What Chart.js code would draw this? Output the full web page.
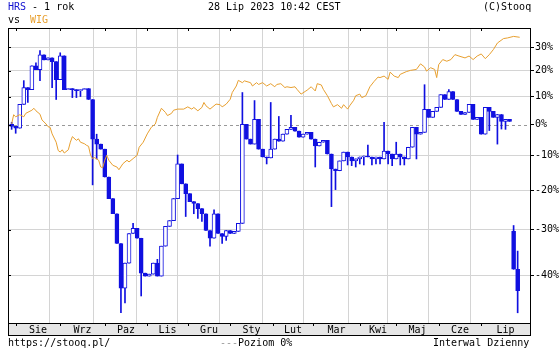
<!DOCTYPE html>
<html>
<head>
<meta charset="utf-8">
<script src="https://cdn.jsdelivr.net/npm/chart.js@4.4.0/dist/chart.umd.min.js"></script>
<style>
body { margin: 0; background: #fff; }
#wrap { position: relative; width: 560px; height: 350px; font: 10px "DejaVu Sans Mono", monospace; color: #000; }
#wrap canvas { position: absolute; left: 0; top: 0; }
.t { position: absolute; white-space: pre; line-height: 12px; }
</style>
</head>
<body>
<div id="wrap">
  <canvas id="chart" width="560" height="350"></canvas>
  <div class="t" style="left:8px;top:1px"><span style="color:#1010d0">HRS</span> - 1 rok</div>
  <div class="t" style="left:208px;top:1px">28 Lip 2023 10:42 CEST</div>
  <div class="t" style="left:483px;top:1px">(C)Stooq</div>
  <div class="t" style="left:8px;top:14px">vs <span style="color:#e8a030;margin-left:4px">WIG</span></div>
  <div class="t" style="left:8px;top:337px">https://stooq.pl/</div>
  <div class="t" style="left:220px;top:337px"><span style="color:#999">---</span>Poziom 0%</div>
  <div class="t" style="left:433px;top:337px">Interwal Dzienny</div>
</div>
<script>
// month axis: first session of each month (session index from 28 Jul 2022)
const monthLabels = ['Sie', 'Wrz', 'Paz', 'Lis', 'Gru', 'Sty', 'Lut', 'Mar', 'Kwi', 'Maj', 'Cze', 'Lip'];
const monthStarts = [2, 24, 46, 67, 87, 108, 129, 149, 172, 190, 211, 232];
const yTicks = [30, 20, 10, 0, -10, -20, -30, -40];

// WIG, % change vs start
const wigDay = [0, 1, 2, 4, 6, 7, 10, 11, 12, 14, 15, 17, 18, 19, 20, 22, 23, 24, 25, 26, 28, 29, 30, 32, 33, 34, 36, 37, 38, 39,
  40, 41, 43, 44, 45, 46, 47, 48, 50, 52, 53, 55, 57, 58, 60, 62, 63, 65, 67, 69, 71, 72, 74, 76, 77, 79, 80, 82, 85, 87,
  89, 90, 92, 94, 95, 96, 98, 99, 101, 103, 104, 106, 108, 109, 111, 112, 114, 115, 118, 119, 121, 122, 124, 126, 128, 130, 131, 133, 135, 136,
  138, 140, 141, 143, 145, 146, 148, 150, 151, 153, 154, 156, 158, 159, 161, 163, 164, 166, 167, 169, 170, 172, 173, 175, 177, 179, 181, 182, 184, 186,
  187, 189, 191, 192, 195, 197, 200, 202, 204, 205, 207, 209, 210, 211, 213, 215, 217, 219, 221, 224, 226, 228, 230, 232, 234, 236, 238, 240, 243, 245,
  248, 251];
const wigPct = [0.2, 3.4, 2.7, 3.4, 2.7, 3.9, 5.0, 5.7, 4.8, 3.6, 1.6, 0.2, -0.7, -0.9, -3.1, -5.8, -8.4, -8.9, -8.2, -9.2, -8.2, -5.8, -4.0, -5.2, -4.7, -5.8, -6.3, -6.8, -7.1, -9.9,
  -10.9, -10.6, -11.4, -13.4, -13.6, -11.4, -9.9, -11.4, -12.9, -13.4, -14.2, -12.4, -11.4, -11.9, -10.9, -9.9, -7.4, -5.8, -3.1, -0.9, 0.2, 2.5, 5.7, 4.2, 3.1, 3.9, 5.0, 5.4, 5.4, 6.2,
  5.4, 6.0, 4.8, 6.0, 7.8, 6.6, 5.4, 6.0, 7.2, 7.0, 6.2, 7.2, 9.0, 11.5, 14.0, 16.2, 15.3, 16.0, 15.3, 14.0, 15.3, 14.6, 15.3, 14.0, 14.9, 13.7, 14.6, 14.9, 13.4, 13.7,
  13.4, 13.7, 12.7, 10.9, 11.9, 12.4, 13.7, 12.1, 14.9, 14.4, 12.7, 10.3, 7.4, 6.2, 7.0, 5.7, 7.0, 5.4, 6.6, 8.6, 10.3, 10.9, 9.6, 10.3, 13.7, 15.7, 17.5, 17.3, 17.9, 16.6,
  19.5, 17.9, 17.3, 18.6, 19.7, 20.2, 20.6, 22.9, 21.6, 19.9, 21.3, 20.6, 17.3, 22.6, 24.7, 24.0, 24.7, 26.8, 26.2, 25.4, 26.2, 24.7, 26.2, 27.1, 25.1, 26.8, 29.0, 31.9, 33.9, 34.2,
  34.9, 34.5];

// HRS candles, one per two sessions, % change vs start
const hrsOpen = [0.1, -0.6, -1.2, 7.1, 13.4, 12.6, 22.1, 20.5, 26.7, 24.6,
  25.4, 23.8, 16.5, 26.3, 12.6, 13.0, 12.6, 12.2, 12.6, 13.0,
  8.9, -4.8, -6.4, -8.0, -16.3, -22.2, -26.1, -33.2, -42.6, -37.5,
  -30.9, -29.7, -32.0, -39.6, -40.2, -39.8, -37.5, -40.2, -33.8, -29.2,
  -27.8, -22.2, -12.5, -18.2, -20.9, -23.0, -23.5, -24.8, -26.1, -30.2,
  -32.0, -26.1, -30.9, -31.6, -30.2, -30.9, -30.4, -28.5, 0.1, -4.8,
  -6.4, 1.8, -8.0, -10.4, -10.7, -8.0, -4.8, -5.5, -3.2, -1.6,
  -0.9, -2.2, -4.2, -3.2, -2.6, -4.8, -7.0, -5.8, -5.2, -9.5,
  -14.0, -14.5, -11.6, -8.9, -10.4, -11.6, -11.0, -10.4, -10.1, -10.4,
  -11.0, -10.4, -11.0, -8.6, -9.5, -11.0, -9.5, -10.4, -11.0, -7.4,
  -0.9, -3.2, -2.6, 5.3, 2.5, 4.6, 6.0, 10.7, 8.9, 11.9,
  8.9, 4.6, 3.5, 4.2, 7.1, 1.8, 2.5, -3.2, 6.0, 4.6,
  2.5, 3.5, 1.1, 1.8, -30.4, -38.8];
const hrsClose = [-0.6, -1.2, 7.1, 13.4, 12.6, 22.1, 20.5, 26.7, 24.6, 25.4,
  23.8, 16.5, 26.3, 12.6, 13.0, 12.6, 12.2, 12.6, 13.0, 8.9,
  -4.8, -6.4, -8.0, -16.3, -22.2, -26.1, -33.2, -42.6, -37.5, -30.9,
  -29.7, -32.0, -39.6, -40.2, -39.8, -37.5, -40.2, -33.8, -29.2, -27.8,
  -22.2, -12.5, -18.2, -20.9, -23.0, -23.5, -24.8, -26.1, -30.2, -32.0,
  -26.1, -30.9, -31.6, -30.2, -30.9, -30.4, -28.5, 0.1, -4.8, -6.4,
  1.8, -8.0, -10.4, -10.7, -8.0, -4.8, -5.5, -3.2, -1.6, -0.9,
  -2.2, -4.2, -3.2, -2.6, -4.8, -7.0, -5.8, -5.2, -9.5, -14.0,
  -14.5, -11.6, -8.9, -10.4, -11.6, -11.0, -10.4, -10.1, -10.4, -11.0,
  -10.4, -11.0, -8.6, -9.5, -11.0, -9.5, -10.4, -11.0, -7.4, -0.9,
  -3.2, -2.6, 5.3, 2.5, 4.6, 6.0, 10.7, 8.9, 11.9, 8.9,
  4.6, 3.5, 4.2, 7.1, 1.8, 2.5, -3.2, 6.0, 4.6, 2.5,
  3.5, 1.1, 1.8, 1.1, -38.8, -43.1];
const hrsHigh = [0.8, null, null, 16.1, null, null, 23.3, 28.6, null, null,
  null, null, 27.6, null, null, null, null, null, null, null,
  null, -3.2, null, null, null, null, null, null, null, null,
  -28.5, null, null, null, null, null, -36.7, null, null, null,
  null, -9.8, null, null, null, null, null, null, null, null,
  -25.1, null, null, null, null, null, null, 11.5, null, null,
  8.5, null, null, null, 7.8, null, 2.8, null, null, 3.2,
  null, null, null, null, null, null, null, null, null, null,
  null, null, null, null, null, null, null, null, -6.7, null,
  null, null, 0.8, null, null, -5.8, null, null, null, null,
  null, null, 14.5, null, null, null, null, null, 12.6, null,
  null, null, null, null, null, null, null, null, null, null,
  null, null, null, null, -29.0, -34.9];
const hrsLow = [-1.6, -2.9, null, null, 7.8, null, null, 16.1, null, null,
  13.4, 8.9, null, null, null, 9.6, 9.6, 10.0, null, null,
  -18.5, -11.0, null, null, null, null, null, -47.2, -45.4, null,
  null, null, -44.1, null, null, null, null, null, null, null,
  null, null, null, -26.8, null, -26.1, -27.3, -28.0, null, -33.8,
  null, null, -33.2, -32.5, null, null, null, null, null, null,
  null, null, null, -12.5, null, null, null, null, null, null,
  null, null, null, null, null, -13.4, null, null, null, -24.3,
  -19.8, null, null, -12.8, -13.0, -13.4, -12.5, -12.8, null, -12.8,
  -12.5, -12.5, null, -12.5, -13.0, null, -12.8, -12.8, null, null,
  -11.0, null, null, null, null, null, null, null, null, null,
  null, null, null, null, null, null, null, null, -2.0, null,
  -6.4, -1.5, -1.6, null, null, -47.2];

const BLUE = '#1010e0';
const ORANGE = '#e8a030';
const GRID = '#d4d4d4';
const ratio = p => 1 + p / 100;

const wigPoints = wigDay.map((d, i) => ({ x: d, y: ratio(wigPct[i]) }));
const bodies = hrsClose.map((c, i) => ({ x: i * 2, y: [ratio(hrsOpen[i]), ratio(c)] }));
const wicks = hrsClose.map((c, i) => {
    const hi = hrsHigh[i] ?? Math.max(hrsOpen[i], c);
    const lo = hrsLow[i] ?? Math.min(hrsOpen[i], c);
    return { x: i * 2, y: [ratio(lo), ratio(hi)] };
});
const bodyFill = hrsClose.map((c, i) => c < hrsOpen[i] ? BLUE : '#fff');

const labelTicks = monthStarts.map((m, i) => (m + (monthStarts[i + 1] ?? 256.1)) / 2);

const framePlugin = {
    id: 'frame',
    beforeDraw(chart) {
        const { ctx, chartArea: a } = chart;
        ctx.save();
        ctx.fillStyle = '#fff';
        ctx.fillRect(0, 0, chart.width, chart.height);
        ctx.fillStyle = '#e6e6e6';
        ctx.fillRect(a.left, a.bottom, a.right - a.left, 12);
        ctx.restore();
    },
    beforeDatasetsDraw(chart) {
        const { ctx, chartArea: a, scales } = chart;
        const y = Math.round(scales.y.getPixelForValue(1)) + 0.5;
        ctx.save();
        ctx.strokeStyle = '#999';
        ctx.lineWidth = 1;
        ctx.setLineDash([3, 3]);
        ctx.beginPath();
        ctx.moveTo(a.left, y);
        ctx.lineTo(a.right, y);
        ctx.stroke();
        ctx.restore();
    },
    afterDraw(chart) {
        const { ctx, chartArea: a, scales } = chart;
        ctx.save();
        ctx.strokeStyle = '#000';
        ctx.lineWidth = 1;
        ctx.strokeRect(a.left + 0.5, a.top + 0.5, a.right - a.left, a.bottom - a.top);
        ctx.strokeRect(a.left + 0.5, a.bottom + 0.5, a.right - a.left, 12);
        ctx.beginPath();
        monthStarts.forEach(m => {
            const x = Math.round(scales.x.getPixelForValue(m)) + 0.5;
            ctx.moveTo(x, a.top); ctx.lineTo(x, a.top + 3);
            ctx.moveTo(x, a.bottom); ctx.lineTo(x, a.bottom + 3);
        });
        yTicks.forEach(t => {
            const y = Math.round(scales.y.getPixelForValue(ratio(t))) + 0.5;
            ctx.moveTo(a.left, y); ctx.lineTo(a.left + 3, y);
        });
        ctx.stroke();
        ctx.restore();
    }
};

const font = { family: 'DejaVu Sans Mono', size: 10 };

new Chart(document.getElementById('chart'), {
    type: 'bar',
    data: {
        datasets: [
            { type: 'line', label: 'WIG', data: wigPoints, borderColor: ORANGE, borderWidth: 1, pointRadius: 0, tension: 0, order: 1 },
            { label: 'HRS', data: bodies, backgroundColor: bodyFill, borderColor: BLUE, borderWidth: 1, borderSkipped: false, barThickness: 4, grouped: false, order: 2 },
            { label: 'HRS wick', data: wicks, backgroundColor: BLUE, barThickness: 1, grouped: false, order: 3 }
        ]
    },
    options: {
        responsive: false,
        animation: false,
        devicePixelRatio: 1,
        layout: { padding: { left: 8, top: 28, right: 0, bottom: 15 } },
        plugins: { legend: { display: false }, tooltip: { enabled: false } },
        scales: {
            x: {
                type: 'linear',
                min: -1.8,
                max: 256.1,
                offset: false,
                afterBuildTicks: s => {
                    s.ticks = monthStarts.concat(labelTicks).sort((p, q) => p - q).map(v => ({ value: v }));
                },
                afterFit: s => { s.height = 12; },
                grid: {
                    color: c => monthStarts.includes(c.tick && c.tick.value) ? GRID : 'transparent',
                    drawTicks: false
                },
                border: { display: false },
                ticks: {
                    autoSkip: false,
                    maxRotation: 0,
                    padding: 1,
                    color: '#000',
                    font: font,
                    callback: v => {
                        const i = labelTicks.indexOf(v);
                        return i >= 0 ? monthLabels[i] : '';
                    }
                }
            },
            y: {
                type: 'logarithmic',
                position: 'right',
                min: 0.514,
                max: 1.388,
                afterBuildTicks: s => { s.ticks = yTicks.map(t => ({ value: ratio(t) })); },
                afterFit: s => { s.width = 30; },
                grid: {
                    color: c => (c.tick && Math.abs(c.tick.value - 1) < 1e-9) ? 'transparent' : GRID,
                    tickColor: '#000',
                    tickLength: 4
                },
                border: { display: false },
                ticks: {
                    padding: 1,
                    color: '#000',
                    font: font,
                    callback: v => Math.round((v - 1) * 100) + '%'
                }
            }
        }
    },
    plugins: [framePlugin]
});
</script>
</body>
</html>
